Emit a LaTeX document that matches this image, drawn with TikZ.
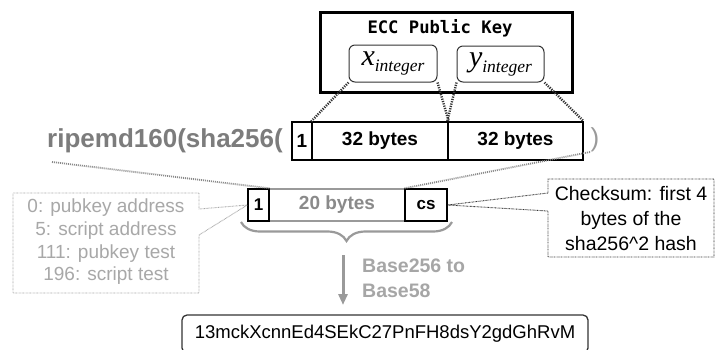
\documentclass[tikz,border=0pt]{standalone}
\usepackage[no-math]{fontspec}
\setmainfont{Liberation Sans}
\newfontfamily\monob{DejaVu Sans Mono}
\newfontfamily\serifit{Liberation Serif}
\usetikzlibrary{decorations.pathreplacing,arrows.meta,calc}
\definecolor{gRip}{HTML}{7C7C7C}
\definecolor{gLeft}{HTML}{A8A8A8}
\definecolor{gMid}{HTML}{8A8A8A}
\definecolor{gBase}{HTML}{A6A6A6}
\definecolor{gLine}{HTML}{9A9A9A}
\definecolor{gDark}{HTML}{333333}
\tikzset{
  cell/.style={draw=black, line width=1.4pt, inner sep=0pt, minimum height=38pt,
    font=\bfseries\fontsize{19}{19}\selectfont},
  lcell/.style={draw=black, line width=1.4pt, inner sep=0pt, minimum height=32pt,
    font=\bfseries\fontsize{17}{17}\selectfont},
  intbox/.style={draw=gDark, line width=1pt, rounded corners=6pt, inner sep=0pt,
    minimum width=88pt, minimum height=37pt},
  topdots/.style={draw=gDark, line width=2.4pt, dash pattern=on 1.2pt off 1.2pt},
  ripdots/.style={draw=gMid, line width=1.8pt, dash pattern=on 1pt off 1pt},
  callL/.style={draw=gLeft, line width=0.9pt, dash pattern=on 0.7pt off 0.7pt},
  callR/.style={draw=gDark, line width=0.9pt, dash pattern=on 0.7pt off 0.7pt},
}
\newcommand{\intlabel}[1]{{\serifit\itshape\fontsize{30}{30}\selectfont #1}\raisebox{-6pt}{\serifit\itshape\fontsize{17.5}{17.5}\selectfont integer}}
\begin{document}
\begin{tikzpicture}[x=1pt,y=-1pt]
\useasboundingbox[fill=white] (0,0) rectangle (725,349);

% ECC public key box
\node[draw=black, line width=3pt, minimum width=252pt, minimum height=80pt, inner sep=0pt] (ecc) at (446,52) {};
\node[font=\monob\bfseries\fontsize{17.2}{17.2}\selectfont, inner sep=0pt] (ecct) at (440,28) {ECC Public Key};
\node[intbox] (xint) at (393,63.5) {\intlabel{x}};
\node[intbox, minimum width=87pt, minimum height=36pt] (yint) at (500.5,64) {\intlabel{y}};

% top byte row
\node[anchor=east, inner sep=0pt, text=gRip, font=\bfseries\fontsize{26}{26}\selectfont] (rip) at (283,141) {ripemd160(sha256(};
\node[cell, minimum width=20pt] (t1) at (302,141) {1};
\node[cell, minimum width=136pt] (t32a) at (380,141) {32 bytes};
\node[cell, minimum width=135pt] (t32b) at (515.5,141) {32 bytes};
\node[inner sep=0pt, text=gLine, font=\fontsize{26}{26}\selectfont] (rpar) at (595,140) {)};

\draw[topdots] (xint.south west) -- (t32a.north west);
\draw[topdots] (xint.south east) -- (t32a.north east);
\draw[topdots] (yint.south west) -- (t32b.north west);
\draw[topdots] (yint.south east) -- (t32b.north east);

% lower row
\node[lcell, draw=gLine, minimum width=136pt, text=gMid, font=\bfseries\fontsize{19}{19}\selectfont] (l20) at (337,205) {20 bytes};
\node[lcell, minimum width=21pt] (l1) at (258.5,205) {1};
\node[lcell, minimum width=42pt] (lcs) at (426,205) {cs};

\coordinate (rl) at (52,162);
\coordinate (rr) at (590,152);
\draw[ripdots] (rl) -- (l1.north east);
\draw[ripdots] (rr) -- (lcs.north west);

% brace
\draw[draw=gLine, line width=2.2pt, decorate, decoration={brace, mirror, amplitude=19pt}] (241,222) -- (452,222);

% arrow
\coordinate (bt) at (343,255);
\coordinate (at) at (343,305);
\draw[draw=gLine, line width=3pt, -{Triangle[length=11pt,width=9pt]}] (bt) -- (at);
\node[anchor=north west, align=left, inner sep=0pt, text=gBase, font=\bfseries\fontsize{19.5}{25}\selectfont] (b58) at (362,259) {Base256 to\\Base58};

% address box
\node[draw=gDark, line width=1.3pt, rounded corners=5pt, minimum width=406pt, minimum height=38pt, inner sep=0pt,
  font=\fontsize{18.5}{18.5}\selectfont] (addr) at (385,334) {13mckXcnnEd4SEkC27PnFH8dsY2gdGhRvM};

% left callout
\node[align=center, inner sep=0pt, text=gLeft, font=\fontsize{19}{22.7}\selectfont] (leg) at (106,242) {0: pubkey address\\5: script address\\111: pubkey test\\196: script test};
\draw[callL] (13,193) -| (199,209) -- (l1.west) -- (199,235) |- (13,293) -- cycle;

% right callout
\node[align=center, inner sep=0pt, font=\fontsize{19.5}{25}\selectfont] (cks) at (631,219) {Checksum: first 4\\bytes of the\\sha256\textasciicircum 2 hash};
\draw[callR] (548,193) |- (714,179) |- (548,257) -- (548,211) -- (lcs.east) -- cycle;
\end{tikzpicture}
\end{document}
